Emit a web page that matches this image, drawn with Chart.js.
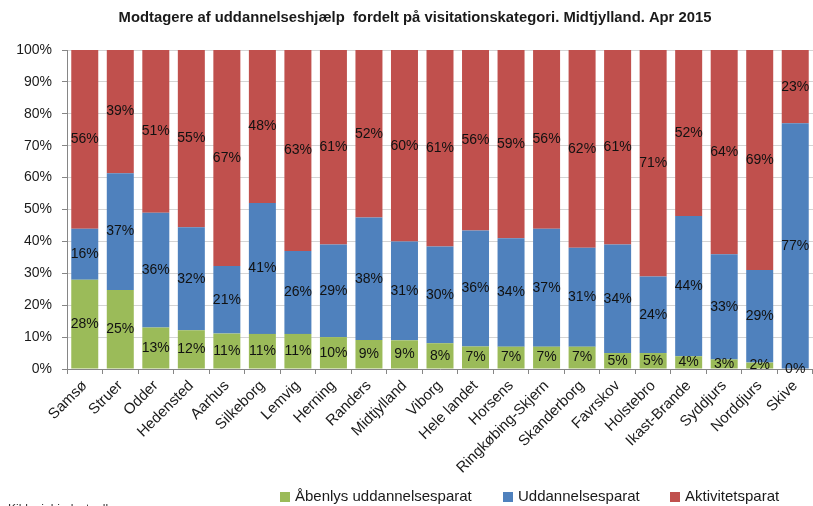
<!DOCTYPE html>
<html><head><meta charset="utf-8">
<script src="https://cdn.jsdelivr.net/npm/chart.js@4/dist/chart.umd.min.js"></script>
<style>html,body{margin:0;padding:0;background:#fff;overflow:hidden}#wrap{width:813px;height:506px;position:relative}</style>
</head><body><div id="wrap"><canvas id="c" width="813" height="506"></canvas></div>
<script>
const titleText = 'Modtagere af uddannelseshjælp  fordelt på visitationskategori. Midtjylland. Apr 2015';
const sourceText = 'Kilde: jobindsats.dk';
const categories = ['Samsø','Struer','Odder','Hedensted','Aarhus','Silkeborg','Lemvig','Herning','Randers','Midtjylland','Viborg','Hele landet','Horsens','Ringkøbing-Skjern','Skanderborg','Favrskov','Holstebro','Ikast-Brande','Syddjurs','Norddjurs','Skive'];
const seriesNames = ['Åbenlys uddannelsesparat','Uddannelsesparat','Aktivitetsparat'];
const abenlys = [28,25,13,12,11,11,11,10,9,9,8,7,7,7,7,5,5,4,3,2,0];
const uddannelses = [16,37,36,32,21,41,26,29,38,31,30,36,34,37,31,34,24,44,33,29,77];
const aktivitets = [56,39,51,55,67,48,63,61,52,60,61,56,59,56,62,61,71,52,64,69,23];
const yTicks = [0,10,20,30,40,50,60,70,80,90,100];
const colors = ['#9BBB59','#4F81BD','#C0504D'];

const raw = [abenlys, uddannelses, aktivitets];
const totals = categories.map((_, i) => raw.reduce((s, a) => s + a[i], 0));
const datasets = raw.map((arr, k) => ({
  label: seriesNames[k],
  data: arr.map((v, i) => v / totals[i] * 100),
  rawValues: arr,
  backgroundColor: colors[k],
  borderWidth: 0,
  barPercentage: 0.76,
  categoryPercentage: 1.0
}));

const FONT = "'Liberation Sans', Arial, sans-serif";

const drawPlugin = {
  id: 'extras',
  afterDatasetsDraw(chart) {
    const ctx = chart.ctx;
    ctx.save();
    ctx.font = '14px ' + FONT;
    ctx.fillStyle = '#111';
    ctx.textAlign = 'center';
    ctx.textBaseline = 'middle';
    chart.data.datasets.forEach((ds, k) => {
      const meta = chart.getDatasetMeta(k);
      meta.data.forEach((el, i) => {
        const y = (el.y + el.base) / 2;
        ctx.fillText(ds.rawValues[i] + '%', el.x, y);
      });
    });
    ctx.restore();
  },
  afterDraw(chart) {
    const ctx = chart.ctx;
    ctx.save();
    ctx.font = 'bold 14.8px ' + FONT;
    ctx.fillStyle = '#1a1a1a';
    ctx.textAlign = 'center';
    ctx.textBaseline = 'middle';
    ctx.fillText(titleText, 415, 18);
    ctx.font = '15px ' + FONT;
    ctx.textAlign = 'left';
    const starts = [280, 503, 670];
    chart.data.datasets.forEach((ds, k) => {
      ctx.fillStyle = ds.backgroundColor;
      ctx.fillRect(starts[k], 492, 10, 10);
      ctx.fillStyle = '#1a1a1a';
      ctx.fillText(ds.label, starts[k] + 15, 497);
    });
    ctx.font = '12px ' + FONT;
    ctx.fillStyle = '#333';
    ctx.textBaseline = 'top';
    ctx.fillText(sourceText, 8, 504);
    ctx.restore();
  }
};

new Chart(document.getElementById('c'), {
  type: 'bar',
  data: { labels: categories, datasets },
  options: {
    responsive: false,
    animation: false,
    layout: { padding: { top: 50, right: 0, bottom: 0, left: 0 } },
    plugins: { legend: { display: false }, title: { display: false }, tooltip: { enabled: false } },
    scales: {
      x: {
        stacked: true,
        afterFit(scale) { scale.height = 137; },
        grid: { offset: true, drawOnChartArea: false, drawTicks: true, tickLength: 5, color: '#868686' },
        border: { color: '#868686' },
        ticks: { minRotation: 45, maxRotation: 45, autoSkip: false, color: '#1a1a1a', font: { size: 15, family: FONT }, padding: 3 }
      },
      y: {
        stacked: true,
        min: 0, max: 100,
        afterFit(scale) { scale.width = 67; },
        afterBuildTicks(scale) { scale.ticks = yTicks.map(v => ({ value: v })); },
        grid: { color: '#d4d4d4', tickLength: 5, tickColor: '#868686' },
        border: { color: '#868686' },
        ticks: { color: '#1a1a1a', font: { size: 14, family: FONT }, padding: 10, callback: v => v + '%' }
      }
    }
  },
  plugins: [drawPlugin]
});
</script></body></html>
